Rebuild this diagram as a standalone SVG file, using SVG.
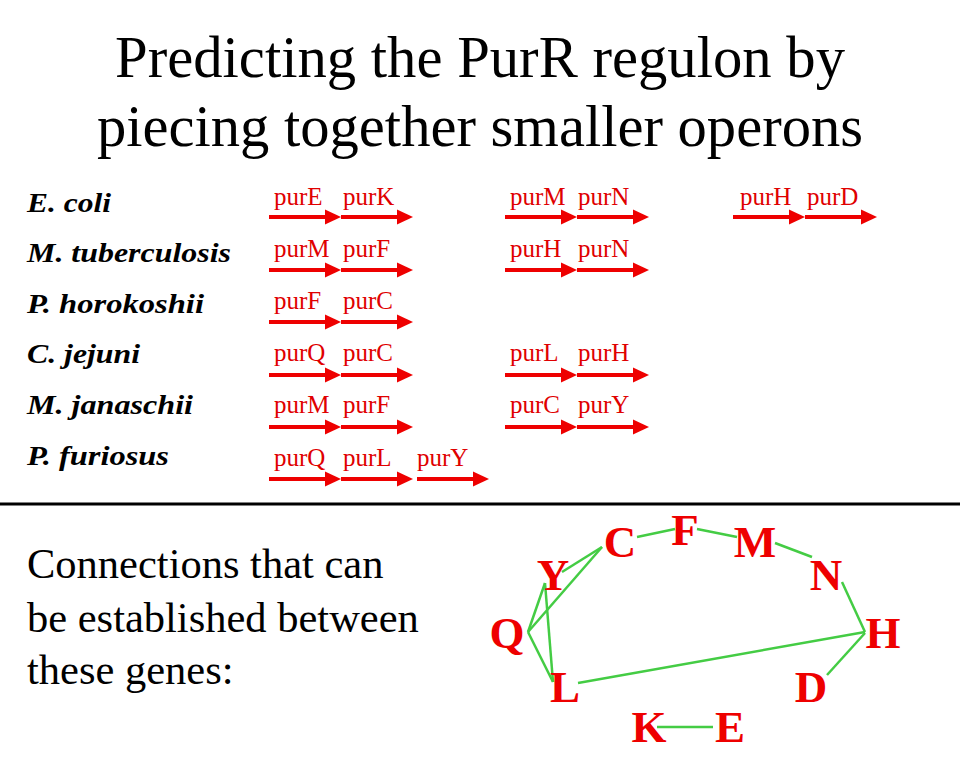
<svg xmlns="http://www.w3.org/2000/svg" xmlns:xlink="http://www.w3.org/1999/xlink" width="960" height="768" viewBox="0 0 960 768">
<style>
.title{font-family:"Liberation Serif","Times New Roman",serif;font-size:60px;fill:#000;text-anchor:middle}
.sp{font-family:"Liberation Serif","Times New Roman",serif;font-size:28px;font-weight:bold;font-style:italic;fill:#000}
.gl{font-family:"Liberation Serif","Times New Roman",serif;font-size:25px;fill:#e00000}
.body{font-family:"Liberation Serif","Times New Roman",serif;font-size:42.5px;fill:#000}
.node{font-family:"Liberation Serif","Times New Roman",serif;font-size:45px;font-weight:bold;fill:#ee0000;text-anchor:middle}
.edge{stroke:#44cc44;stroke-width:2.5;fill:none}
.arr{fill:#ee0000}
</style>
<defs>
<g id="arr" class="arr"><rect x="0" y="-2" width="58" height="4"/><polygon points="56,-7.5 72,0 56,7.5"/></g>
</defs>
<rect width="960" height="768" fill="#fff"/>
<g id="title">
<text class="title" x="480" y="77" textLength="730" lengthAdjust="spacingAndGlyphs">Predicting the PurR regulon by</text>
<text class="title" x="480" y="146" textLength="766" lengthAdjust="spacingAndGlyphs">piecing together smaller operons</text>
</g>
<g id="species">
<text class="sp" x="27" y="212" textLength="84" lengthAdjust="spacingAndGlyphs">E. coli</text>
<text class="sp" x="27" y="262" textLength="204" lengthAdjust="spacingAndGlyphs">M. tuberculosis</text>
<text class="sp" x="27" y="313" textLength="177" lengthAdjust="spacingAndGlyphs">P. horokoshii</text>
<text class="sp" x="27" y="363" textLength="113" lengthAdjust="spacingAndGlyphs">C. jejuni</text>
<text class="sp" x="27" y="414" textLength="166" lengthAdjust="spacingAndGlyphs">M. janaschii</text>
<text class="sp" x="27" y="465" textLength="142" lengthAdjust="spacingAndGlyphs">P. furiosus</text>
</g>
<g id="operons">
<g id="row-ecoli">
<use xlink:href="#arr" x="269" y="217"/><use xlink:href="#arr" x="341" y="217"/>
<use xlink:href="#arr" x="505" y="217"/><use xlink:href="#arr" x="577" y="217"/>
<use xlink:href="#arr" x="733" y="217"/><use xlink:href="#arr" x="805" y="217"/>
<text class="gl" x="274" y="205">purE</text><text class="gl" x="343" y="205">purK</text>
<text class="gl" x="510" y="205">purM</text><text class="gl" x="578" y="205">purN</text>
<text class="gl" x="740" y="205">purH</text><text class="gl" x="807" y="205">purD</text>
</g>
<g id="row-mtub">
<use xlink:href="#arr" x="269" y="270"/><use xlink:href="#arr" x="341" y="270"/>
<use xlink:href="#arr" x="505" y="270"/><use xlink:href="#arr" x="577" y="270"/>
<text class="gl" x="274" y="257">purM</text><text class="gl" x="343" y="257">purF</text>
<text class="gl" x="510" y="257">purH</text><text class="gl" x="578" y="257">purN</text>
</g>
<g id="row-phor">
<use xlink:href="#arr" x="269" y="322"/><use xlink:href="#arr" x="341" y="322"/>
<text class="gl" x="274" y="309">purF</text><text class="gl" x="343" y="309">purC</text>
</g>
<g id="row-cjej">
<use xlink:href="#arr" x="269" y="375"/><use xlink:href="#arr" x="341" y="375"/>
<use xlink:href="#arr" x="505" y="375"/><use xlink:href="#arr" x="577" y="375"/>
<text class="gl" x="274" y="361">purQ</text><text class="gl" x="343" y="361">purC</text>
<text class="gl" x="510" y="361">purL</text><text class="gl" x="578" y="361">purH</text>
</g>
<g id="row-mjan">
<use xlink:href="#arr" x="269" y="427"/><use xlink:href="#arr" x="341" y="427"/>
<use xlink:href="#arr" x="505" y="427"/><use xlink:href="#arr" x="577" y="427"/>
<text class="gl" x="274" y="413">purM</text><text class="gl" x="343" y="413">purF</text>
<text class="gl" x="510" y="413">purC</text><text class="gl" x="578" y="413">purY</text>
</g>
<g id="row-pfur">
<use xlink:href="#arr" x="269" y="479"/><use xlink:href="#arr" x="341" y="479"/><use xlink:href="#arr" x="417" y="479"/>
<text class="gl" x="274" y="466">purQ</text><text class="gl" x="343" y="466">purL</text><text class="gl" x="417" y="466">purY</text>
</g>
</g>
<rect id="divider" x="0" y="502.5" width="960" height="3" fill="#000"/>
<g id="caption">
<text class="body" x="27" y="578">Connections that can</text>
<text class="body" x="27" y="632">be established between</text>
<text class="body" x="27" y="684">these genes:</text>
</g>
<g id="connectors">
<line class="edge" x1="637" y1="537" x2="675" y2="529"/>
<line class="edge" x1="697" y1="529" x2="737" y2="537"/>
<line class="edge" x1="775" y1="543" x2="812" y2="557"/>
<line class="edge" x1="842" y1="582" x2="865" y2="632"/>
<line class="edge" x1="865" y1="633" x2="827" y2="675"/>
<line class="edge" x1="865" y1="632" x2="578" y2="683"/>
<line class="edge" x1="528" y1="632" x2="553" y2="682"/>
<line class="edge" x1="528" y1="632" x2="545" y2="583"/>
<line class="edge" x1="528" y1="632" x2="602" y2="547"/>
<line class="edge" x1="562" y1="572" x2="602" y2="547"/>
<line class="edge" x1="545" y1="583" x2="553" y2="682"/>
<line class="edge" x1="657" y1="727" x2="713" y2="727"/>
</g>
<g id="node-C"><text class="node" x="620" y="557">C</text></g>
<g id="node-F"><text class="node" x="685" y="545">F</text></g>
<g id="node-M"><text class="node" x="755" y="557">M</text></g>
<g id="node-N"><text class="node" x="826" y="590">N</text></g>
<g id="node-H"><text class="node" x="883" y="648">H</text></g>
<g id="node-D"><text class="node" x="811" y="702">D</text></g>
<g id="node-E"><text class="node" x="730" y="742">E</text></g>
<g id="node-K"><text class="node" x="649" y="742">K</text></g>
<g id="node-L"><text class="node" x="565" y="702">L</text></g>
<g id="node-Q"><text class="node" x="507" y="648">Q</text></g>
<g id="node-Y"><text class="node" x="553" y="590">Y</text></g>
</svg>
